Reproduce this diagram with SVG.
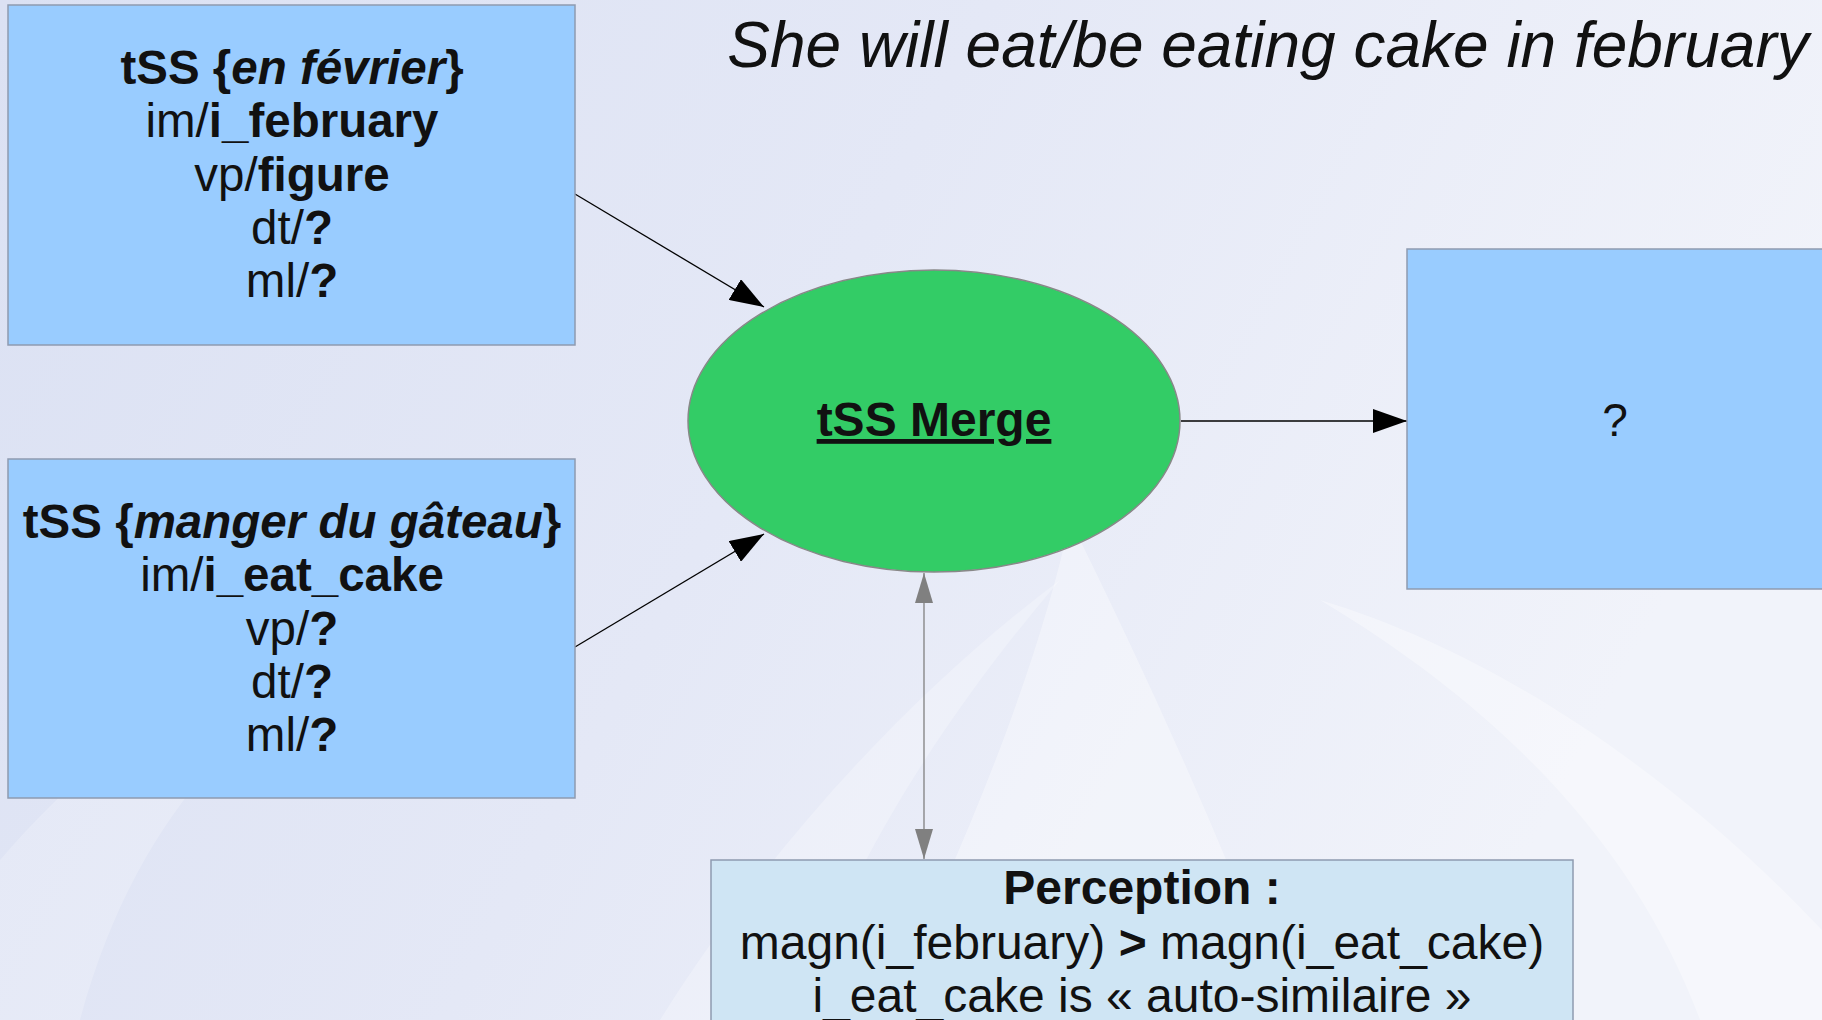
<svg xmlns="http://www.w3.org/2000/svg" width="1822" height="1020" viewBox="0 0 1822 1020">
<defs>
<linearGradient id="bg" x1="0" y1="0" x2="1" y2="0.3">
<stop offset="0" stop-color="#dbe1f3"/>
<stop offset="0.5" stop-color="#e4e8f6"/>
<stop offset="1" stop-color="#f1f3fa"/>
</linearGradient>
<marker id="ah" viewBox="0 0 34 24" refX="34" refY="12" markerWidth="34" markerHeight="24" markerUnits="userSpaceOnUse" orient="auto">
<path d="M0,0 L34,12 L0,24 Z" fill="#000"/>
</marker>
<marker id="ahg" viewBox="0 0 30 18" refX="30" refY="9" markerWidth="30" markerHeight="18" markerUnits="userSpaceOnUse" orient="auto-start-reverse">
<path d="M0,0 L30,9 L0,18 Z" fill="#808080"/>
</marker>
</defs>
<style>
.box{fill:#99ccff;stroke:#8e9bb0;stroke-width:1.5}
.perc{fill:#cfe5f4;stroke:#8e9bb0;stroke-width:1.5}
.ell{fill:#33cc66;stroke:#888;stroke-width:1.5}
.t{font-family:"Liberation Sans",Arial,sans-serif;fill:#111;text-anchor:middle}
.b{font-weight:bold}
.bi{font-weight:bold;font-style:italic}
.n{font-size:47.5px}
.conn{stroke:#000;stroke-width:1.3;fill:none}
.conng{stroke:#808080;stroke-width:1.3;fill:none}
</style>
<rect width="1822" height="1020" fill="url(#bg)"/>
<g>
<path d="M660,1020 C760,860 900,700 1060,580 C940,720 840,880 800,1020 Z" fill="#ffffff" opacity="0.25"/>
<path d="M880,1020 C970,840 1040,660 1070,520 C1150,680 1230,860 1290,1020 Z" fill="#ffffff" opacity="0.35"/>
<path d="M1320,600 C1520,660 1700,800 1822,930 L1822,1020 L1700,1020 C1640,860 1520,720 1320,600 Z" fill="#ffffff" opacity="0.35"/>
<path d="M0,860 C120,720 260,640 420,600 C260,700 140,800 80,1020 L0,1020 Z" fill="#ffffff" opacity="0.2"/>
</g>
<text class="t" x="1268" y="67" font-size="64" font-style="italic">She will eat/be eating cake in february</text>
<g id="connectors">
<line class="conn" x1="575" y1="194" x2="764" y2="307" marker-end="url(#ah)"/>
<line class="conn" x1="575" y1="647" x2="764" y2="534" marker-end="url(#ah)"/>
<line class="conn" x1="1181" y1="421" x2="1407" y2="421" marker-end="url(#ah)"/>
<line class="conng" x1="924" y1="573" x2="924" y2="859" marker-start="url(#ahg)" marker-end="url(#ahg)"/>
</g>
<g id="tss-fevrier">
<rect class="box" x="8" y="5" width="567" height="340"/>
<text class="t n" x="292" y="84"><tspan class="b">tSS {</tspan><tspan class="bi">en février</tspan><tspan class="b">}</tspan></text>
<text class="t n" x="292" y="137">im/<tspan class="b">i_february</tspan></text>
<text class="t n" x="292" y="191">vp/<tspan class="b">figure</tspan></text>
<text class="t n" x="292" y="244">dt/<tspan class="b">?</tspan></text>
<text class="t n" x="292" y="297">ml/<tspan class="b">?</tspan></text>
</g>
<g id="tss-gateau">
<rect class="box" x="8" y="459" width="567" height="339"/>
<text class="t n" x="292" y="538" font-size="48"><tspan class="b">tSS {</tspan><tspan class="bi">manger du gâteau</tspan><tspan class="b">}</tspan></text>
<text class="t n" x="292" y="591">im/<tspan class="b">i_eat_cake</tspan></text>
<text class="t n" x="292" y="645">vp/<tspan class="b">?</tspan></text>
<text class="t n" x="292" y="698">dt/<tspan class="b">?</tspan></text>
<text class="t n" x="292" y="751">ml/<tspan class="b">?</tspan></text>
</g>
<g id="merge">
<ellipse class="ell" cx="934" cy="421" rx="246" ry="151"/>
<text class="t b" x="934" y="436" font-size="48" text-decoration="underline">tSS Merge</text>
</g>
<g id="result">
<rect class="box" x="1407" y="249" width="430" height="340"/>
<text class="t" x="1615" y="436" font-size="46">?</text>
</g>
<g id="perception">
<rect class="perc" x="711" y="860" width="862" height="180"/>
<text class="t b" x="1142" y="904" font-size="48">Perception :</text>
<text class="t" x="1142" y="959" font-size="48">magn(i_february) <tspan class="b">&gt;</tspan> magn(i_eat_cake)</text>
<text class="t" x="1142" y="1012" font-size="48">i_eat_cake is « auto-similaire »</text>
</g>
</svg>
